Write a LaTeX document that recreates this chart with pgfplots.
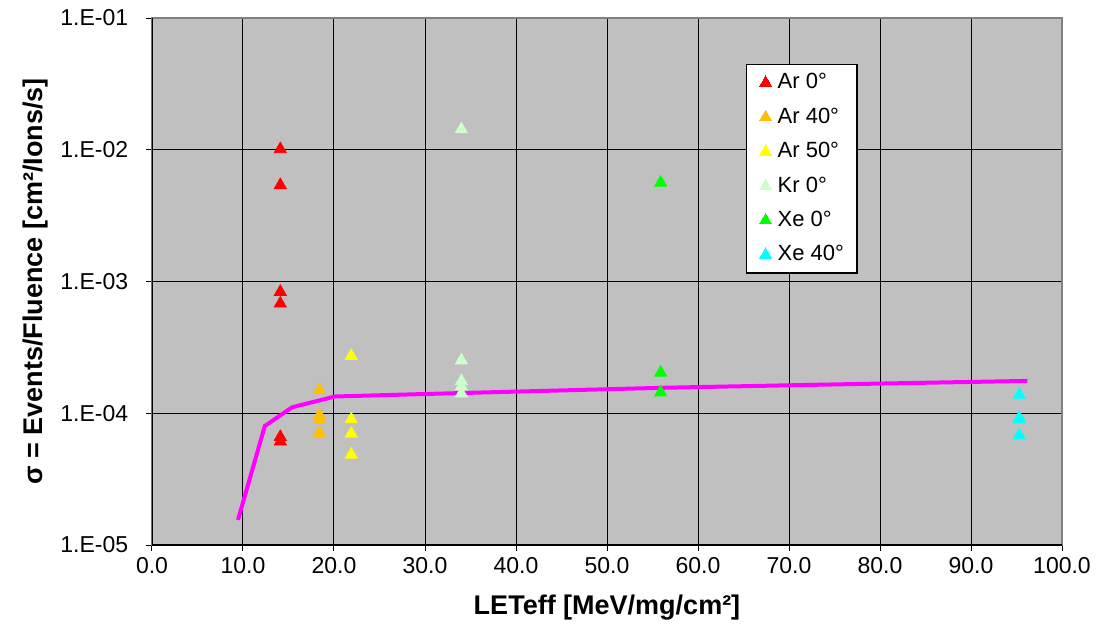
\documentclass[border=0pt]{standalone}
\usepackage{fontspec}
\setmainfont{Liberation Sans}
\usepackage{pgfplots}
\pgfplotsset{compat=1.18}
\definecolor{plotbg}{HTML}{C0C0C0}
\definecolor{arzero}{HTML}{FF0000}
\definecolor{arforty}{HTML}{FFC000}
\definecolor{arfifty}{HTML}{FFFF00}
\definecolor{krzero}{HTML}{CCFFCC}
\definecolor{xezero}{HTML}{00FF00}
\definecolor{xeforty}{HTML}{00FFFF}
\definecolor{fitline}{HTML}{FF00FF}
\begin{document}
\begin{tikzpicture}
\useasboundingbox (-76pt,-48.5pt) rectangle (473.5pt,272.5pt);
\begin{axis}[
  at={(0,0)}, anchor=south west,
  scale only axis, width=455pt, height=263.5pt,
  xmin=0, xmax=100, ymode=log, ymin=1e-5, ymax=1e-1,
  xtick={0,10,20,30,40,50,60,70,80,90,100},
  xticklabels={0.0,10.0,20.0,30.0,40.0,50.0,60.0,70.0,80.0,90.0,100.0},
  ytick={1e-5,1e-4,1e-3,1e-2,1e-1},
  yticklabels={1.E-05,1.E-04,1.E-03,1.E-02,1.E-01},
  yminorticks=false, xminorticks=false,
  grid=major, major grid style={black, line width=0.5pt},
  axis background/.style={fill=plotbg},
  axis line style={draw=gray, line width=0.6pt},
  tick align=outside, xtick pos=bottom, ytick pos=left,
  major tick length=3pt, tick style={black, line width=0.5pt},
  ticklabel style={font=\fontsize{11.5}{13}\selectfont},
  yticklabel style={xshift=-5.4pt},
  xticklabel style={yshift=0.5pt},
  xlabel={\textbf{LETeff [MeV/mg/cm²]}},
  ylabel={\textbf{σ = Events/Fluence [cm²/Ions/s]}},
  label style={font=\fontsize{13.5}{15}\selectfont},
  xlabel style={at={(axis description cs:0.5,-0.1186)}, anchor=center},
  ylabel style={at={(axis description cs:-0.1275,0.5)}, anchor=center},
  legend style={at={(rel axis cs:0.6527,0.9127)}, anchor=north west,
    draw=black, fill=white, line width=0.6pt,
    font=\fontsize{11}{13}\selectfont,
    inner xsep=6.5pt, inner ysep=0.5pt, row sep=0pt,
    nodes={minimum height=17.2pt, inner sep=0pt},
    /tikz/every odd column/.append style={column sep=3pt}},
  legend cell align=left,
  legend image code/.code={\draw[#1, line width=0pt] plot coordinates {(0pt,0pt)};},
  scatter/.style={only marks, draw=none, mark=triangle*, mark size=3.5pt,
    mark options={fill=#1, draw=#1}},
]
\addplot[scatter=arzero] coordinates {
(14.1,1.01e-2) (14.1,5.39e-3) (14.1,8.34e-4) (14.1,6.8e-4) (14.1,6.6e-5) (14.1,6.1e-5)};
\addlegendentry{Ar 0°}
\addplot[scatter=arforty] coordinates {
(18.4,1.50e-4) (18.4,9.7e-5) (18.4,8.9e-5) (18.4,7.1e-5)};
\addlegendentry{Ar 40°}
\addplot[scatter=arfifty] coordinates {
(21.9,2.72e-4) (21.9,9.0e-5) (21.9,7.0e-5) (21.9,4.85e-5)};
\addlegendentry{Ar 50°}
\addplot[scatter=krzero] coordinates {
(34.0,1.43e-2) (34.0,2.52e-4) (34.0,1.75e-4) (34.0,1.6e-4) (34.0,1.41e-4)};
\addlegendentry{Kr 0°}
\addplot[scatter=xezero] coordinates {
(55.9,5.62e-3) (55.9,2.03e-4) (55.9,1.44e-4)};
\addlegendentry{Xe 0°}
\addplot[scatter=xeforty] coordinates {
(95.3,1.38e-4) (95.3,9.2e-5) (95.3,9.0e-5) (95.3,6.8e-5)};
\addlegendentry{Xe 40°}
\addplot[fitline, line width=2pt, mark=none, sharp plot, forget plot] coordinates {
(9.45,1.55e-5) (12.4,8.0e-5) (15.4,1.11e-4) (20.1,1.34e-4) (30,1.40e-4) (40,1.46e-4)
(56,1.56e-4) (70,1.63e-4) (80,1.68e-4) (96.2,1.76e-4)};
\draw[black, line width=1pt] (rel axis cs:0,0) -- (rel axis cs:0,1);
\draw[black, line width=1pt] (rel axis cs:0,0) -- (rel axis cs:1,0);
\end{axis}
\end{tikzpicture}
\end{document}
